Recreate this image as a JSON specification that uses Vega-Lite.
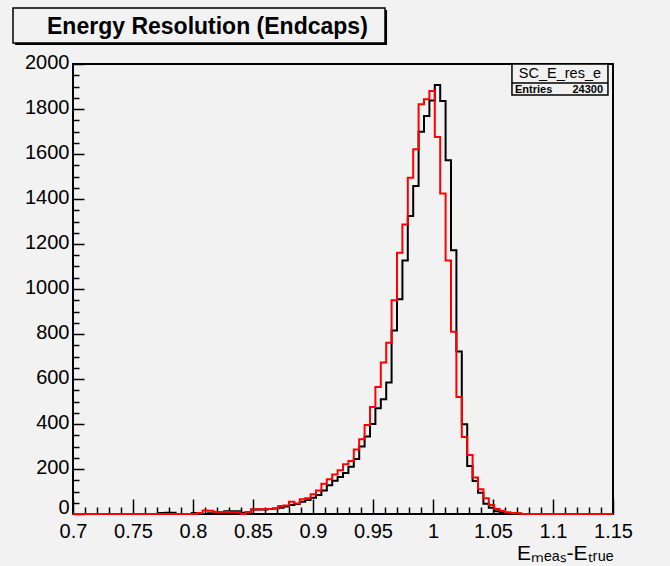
{
  "$schema": "https://vega.github.io/schema/vega-lite/v6.json",
  "width": 540,
  "height": 450,
  "autosize": {"type": "none"},
  "padding": {"left": 73, "top": 64, "right": 57, "bottom": 52},
  "background": "#f2f2f2",
  "config": {
    "view": {"stroke": "black", "strokeWidth": 2, "fill": "#f2f2f2"},
    "font": "Liberation Sans",
    "axis": {"grid": false, "domain": false, "tickColor": "black", "labelColor": "black", "titleColor": "black", "labelFont": "Liberation Sans", "titleFont": "Liberation Sans", "labelFlush": false, "labelOverlap": false}
  },
  "datasets": {
    "hist": [
      {"lo": 0.7, "black": 0, "red": 0}, {"lo": 0.7045, "black": 0, "red": 0}, {"lo": 0.709, "black": 0, "red": 0}, {"lo": 0.7135, "black": 0, "red": 0},
      {"lo": 0.718, "black": 0, "red": 0}, {"lo": 0.7225, "black": 0, "red": 0}, {"lo": 0.727, "black": 0, "red": 0}, {"lo": 0.7315, "black": 0, "red": 0},
      {"lo": 0.736, "black": 0, "red": 0}, {"lo": 0.7405, "black": 0, "red": 0}, {"lo": 0.745, "black": 0, "red": 0}, {"lo": 0.7495, "black": 0, "red": 0},
      {"lo": 0.754, "black": 0, "red": 0}, {"lo": 0.7585, "black": 0, "red": 0}, {"lo": 0.763, "black": 0, "red": 0}, {"lo": 0.7675, "black": 0, "red": 0},
      {"lo": 0.772, "black": 4, "red": 0}, {"lo": 0.7765, "black": 6, "red": 0}, {"lo": 0.781, "black": 6, "red": 0}, {"lo": 0.7855, "black": 0, "red": 0},
      {"lo": 0.79, "black": 0, "red": 0}, {"lo": 0.7945, "black": 0, "red": 0}, {"lo": 0.799, "black": 5, "red": 0}, {"lo": 0.8035, "black": 0, "red": 5},
      {"lo": 0.808, "black": 0, "red": 16}, {"lo": 0.8125, "black": 3, "red": 14}, {"lo": 0.817, "black": 3, "red": 9}, {"lo": 0.8215, "black": 5, "red": 9},
      {"lo": 0.826, "black": 12, "red": 9}, {"lo": 0.8305, "black": 12, "red": 8}, {"lo": 0.835, "black": 12, "red": 8}, {"lo": 0.8395, "black": 6, "red": 0},
      {"lo": 0.844, "black": 8, "red": 9}, {"lo": 0.8485, "black": 20, "red": 20}, {"lo": 0.853, "black": 20, "red": 21}, {"lo": 0.8575, "black": 20, "red": 21},
      {"lo": 0.862, "black": 22, "red": 22}, {"lo": 0.8665, "black": 24, "red": 24}, {"lo": 0.871, "black": 28, "red": 36}, {"lo": 0.8755, "black": 33, "red": 38},
      {"lo": 0.88, "black": 40, "red": 55}, {"lo": 0.8845, "black": 45, "red": 47}, {"lo": 0.889, "black": 55, "red": 66}, {"lo": 0.8935, "black": 62, "red": 70},
      {"lo": 0.898, "black": 72, "red": 88}, {"lo": 0.9025, "black": 85, "red": 105}, {"lo": 0.907, "black": 105, "red": 135}, {"lo": 0.9115, "black": 128, "red": 154},
      {"lo": 0.916, "black": 148, "red": 176}, {"lo": 0.9205, "black": 165, "red": 194}, {"lo": 0.925, "black": 182, "red": 221}, {"lo": 0.9295, "black": 210, "red": 236},
      {"lo": 0.934, "black": 245, "red": 287}, {"lo": 0.9385, "black": 300, "red": 332}, {"lo": 0.943, "black": 345, "red": 396}, {"lo": 0.9475, "black": 400, "red": 476},
      {"lo": 0.952, "black": 470, "red": 564}, {"lo": 0.9565, "black": 510, "red": 673}, {"lo": 0.961, "black": 584, "red": 761}, {"lo": 0.9655, "black": 816, "red": 950},
      {"lo": 0.97, "black": 955, "red": 1161}, {"lo": 0.9745, "black": 1127, "red": 1287}, {"lo": 0.979, "black": 1324, "red": 1495}, {"lo": 0.9835, "black": 1458, "red": 1621},
      {"lo": 0.988, "black": 1699, "red": 1821}, {"lo": 0.9925, "black": 1769, "red": 1843}, {"lo": 0.997, "black": 1838, "red": 1880}, {"lo": 1.0015, "black": 1907, "red": 1676},
      {"lo": 1.006, "black": 1836, "red": 1424}, {"lo": 1.0105, "black": 1572, "red": 1127}, {"lo": 1.015, "black": 1172, "red": 810}, {"lo": 1.0195, "black": 722, "red": 520},
      {"lo": 1.024, "black": 399, "red": 342}, {"lo": 1.0285, "black": 213, "red": 262}, {"lo": 1.033, "black": 147, "red": 162}, {"lo": 1.0375, "black": 95, "red": 110},
      {"lo": 1.042, "black": 46, "red": 70}, {"lo": 1.0465, "black": 28, "red": 40}, {"lo": 1.051, "black": 12, "red": 22}, {"lo": 1.0555, "black": 8, "red": 14},
      {"lo": 1.06, "black": 4, "red": 8}, {"lo": 1.0645, "black": 3, "red": 5}, {"lo": 1.069, "black": 1, "red": 3}, {"lo": 1.0735, "black": 0, "red": 0},
      {"lo": 1.078, "black": 0, "red": 0}, {"lo": 1.0825, "black": 0, "red": 0}, {"lo": 1.087, "black": 0, "red": 0}, {"lo": 1.0915, "black": 0, "red": 0},
      {"lo": 1.096, "black": 0, "red": 0}, {"lo": 1.1005, "black": 0, "red": 0}, {"lo": 1.105, "black": 0, "red": 0}, {"lo": 1.1095, "black": 0, "red": 0},
      {"lo": 1.114, "black": 0, "red": 0}, {"lo": 1.1185, "black": 0, "red": 0}, {"lo": 1.123, "black": 0, "red": 0}, {"lo": 1.1275, "black": 0, "red": 0},
      {"lo": 1.132, "black": 0, "red": 0}, {"lo": 1.1365, "black": 0, "red": 0}, {"lo": 1.141, "black": 0, "red": 0}, {"lo": 1.1455, "black": 0, "red": 0},
      {"lo": 1.15, "black": 0, "red": 0}
    ],
    "titlebox": [{"label": "Energy Resolution (Endcaps)"}],
    "stats": [{"name": "SC_E_res_e", "key": "Entries", "entries": "24300"}]
  },
  "resolve": {"axis": {"x": "independent", "y": "independent"}},
  "layer": [
    {
      "data": {"name": "hist"},
      "mark": {"type": "line", "interpolate": "step-after", "color": "black", "strokeWidth": 2, "strokeJoin": "miter"},
      "encoding": {
        "x": {"field": "lo", "type": "quantitative", "scale": {"domain": [0.7, 1.15], "nice": false, "zero": false},
          "axis": {"orient": "bottom", "values": [0.7, 0.75, 0.8, 0.85, 0.9, 0.95, 1, 1.05, 1.1, 1.15], "format": "~g", "tickSize": -15, "tickWidth": 1.5, "labelPadding": 22, "labelFontSize": 20,
            "title": "Eₘₑₐₛ-Eₜᵣᵤₑ", "titleAnchor": "end", "titleFontSize": 21, "titleFontWeight": "normal", "titlePadding": 1}},
        "y": {"field": "black", "type": "quantitative", "scale": {"domain": [0, 2000], "nice": false, "zero": true},
          "axis": {"orient": "left", "values": [0, 200, 400, 600, 800, 1000, 1200, 1400, 1600, 1800, 2000], "format": "d", "tickSize": -11, "tickWidth": 1.5, "labelPadding": 15,
            "labelOffset": {"condition": {"test": "datum.value === 0", "value": -7}, "value": -2}, "labelFontSize": 20, "title": null}}
      }
    },
    {
      "data": {"name": "hist"},
      "mark": {"type": "line", "interpolate": "step-after", "color": "#ff0000", "strokeWidth": 2, "strokeJoin": "miter"},
      "encoding": {
        "x": {"field": "lo", "type": "quantitative",
          "axis": {"orient": "bottom", "values": [0.71, 0.72, 0.73, 0.74, 0.76, 0.77, 0.78, 0.79, 0.81, 0.82, 0.83, 0.84, 0.86, 0.87, 0.88, 0.89, 0.91, 0.92, 0.93, 0.94, 0.96, 0.97, 0.98, 0.99, 1.01, 1.02, 1.03, 1.04, 1.06, 1.07, 1.08, 1.09, 1.11, 1.12, 1.13, 1.14], "labels": false, "tickSize": -7, "tickWidth": 1.5, "title": null}},
        "y": {"field": "red", "type": "quantitative",
          "axis": {"orient": "left", "values": [50, 100, 150, 250, 300, 350, 450, 500, 550, 650, 700, 750, 850, 900, 950, 1050, 1100, 1150, 1250, 1300, 1350, 1450, 1500, 1550, 1650, 1700, 1750, 1850, 1900, 1950], "labels": false, "tickSize": -6, "tickWidth": 1.5, "title": null}}
      }
    },
    {
      "data": {"name": "titlebox"},
      "mark": {"type": "rect", "fill": "black"},
      "encoding": {
        "x": {"datum": 0.6517, "type": "quantitative", "axis": null}, "x2": {"datum": 0.9617},
        "y": {"datum": 2240, "type": "quantitative", "axis": null}, "y2": {"datum": 2084.4}
      }
    },
    {
      "data": {"name": "titlebox"},
      "mark": {"type": "rect", "fill": "#f2f2f2", "stroke": "black", "strokeWidth": 1.5},
      "encoding": {
        "x": {"datum": 0.65, "type": "quantitative", "axis": null}, "x2": {"datum": 0.96},
        "y": {"datum": 2248.9, "type": "quantitative", "axis": null}, "y2": {"datum": 2093.3}
      }
    },
    {
      "data": {"name": "titlebox"},
      "mark": {"type": "text", "font": "Liberation Sans", "fontWeight": "bold", "fontSize": 23, "align": "center", "baseline": "alphabetic", "color": "black"},
      "encoding": {
        "x": {"datum": 0.812, "type": "quantitative", "axis": null},
        "y": {"datum": 2135, "type": "quantitative", "axis": null},
        "text": {"field": "label"}
      }
    },
    {
      "data": {"name": "stats"},
      "mark": {"type": "rect", "fill": "#f2f2f2", "stroke": "black", "strokeWidth": 1.5},
      "encoding": {
        "x": {"datum": 1.0658, "type": "quantitative", "axis": null}, "x2": {"datum": 1.1458},
        "y": {"datum": 2000, "type": "quantitative", "axis": null}, "y2": {"datum": 1862}
      }
    },
    {
      "data": {"name": "stats"},
      "mark": {"type": "rule", "color": "black", "strokeWidth": 1.5},
      "encoding": {
        "x": {"datum": 1.0658, "type": "quantitative", "axis": null}, "x2": {"datum": 1.1458},
        "y": {"datum": 1915.6, "type": "quantitative", "axis": null}
      }
    },
    {
      "data": {"name": "stats"},
      "mark": {"type": "text", "font": "Liberation Sans", "fontSize": 14.5, "align": "center", "baseline": "alphabetic", "color": "black"},
      "encoding": {
        "x": {"datum": 1.1058, "type": "quantitative", "axis": null},
        "y": {"datum": 1935.6, "type": "quantitative", "axis": null},
        "text": {"field": "name"}
      }
    },
    {
      "data": {"name": "stats"},
      "mark": {"type": "text", "font": "Liberation Sans", "fontSize": 11, "fontWeight": "bold", "align": "left", "baseline": "alphabetic", "color": "black"},
      "encoding": {
        "x": {"datum": 1.0683, "type": "quantitative", "axis": null},
        "y": {"datum": 1872.4, "type": "quantitative", "axis": null},
        "text": {"field": "key"}
      }
    },
    {
      "data": {"name": "stats"},
      "mark": {"type": "text", "font": "Liberation Sans", "fontSize": 11, "fontWeight": "bold", "align": "right", "baseline": "alphabetic", "color": "black"},
      "encoding": {
        "x": {"datum": 1.1417, "type": "quantitative", "axis": null},
        "y": {"datum": 1872.4, "type": "quantitative", "axis": null},
        "text": {"field": "entries"}
      }
    }
  ]
}
